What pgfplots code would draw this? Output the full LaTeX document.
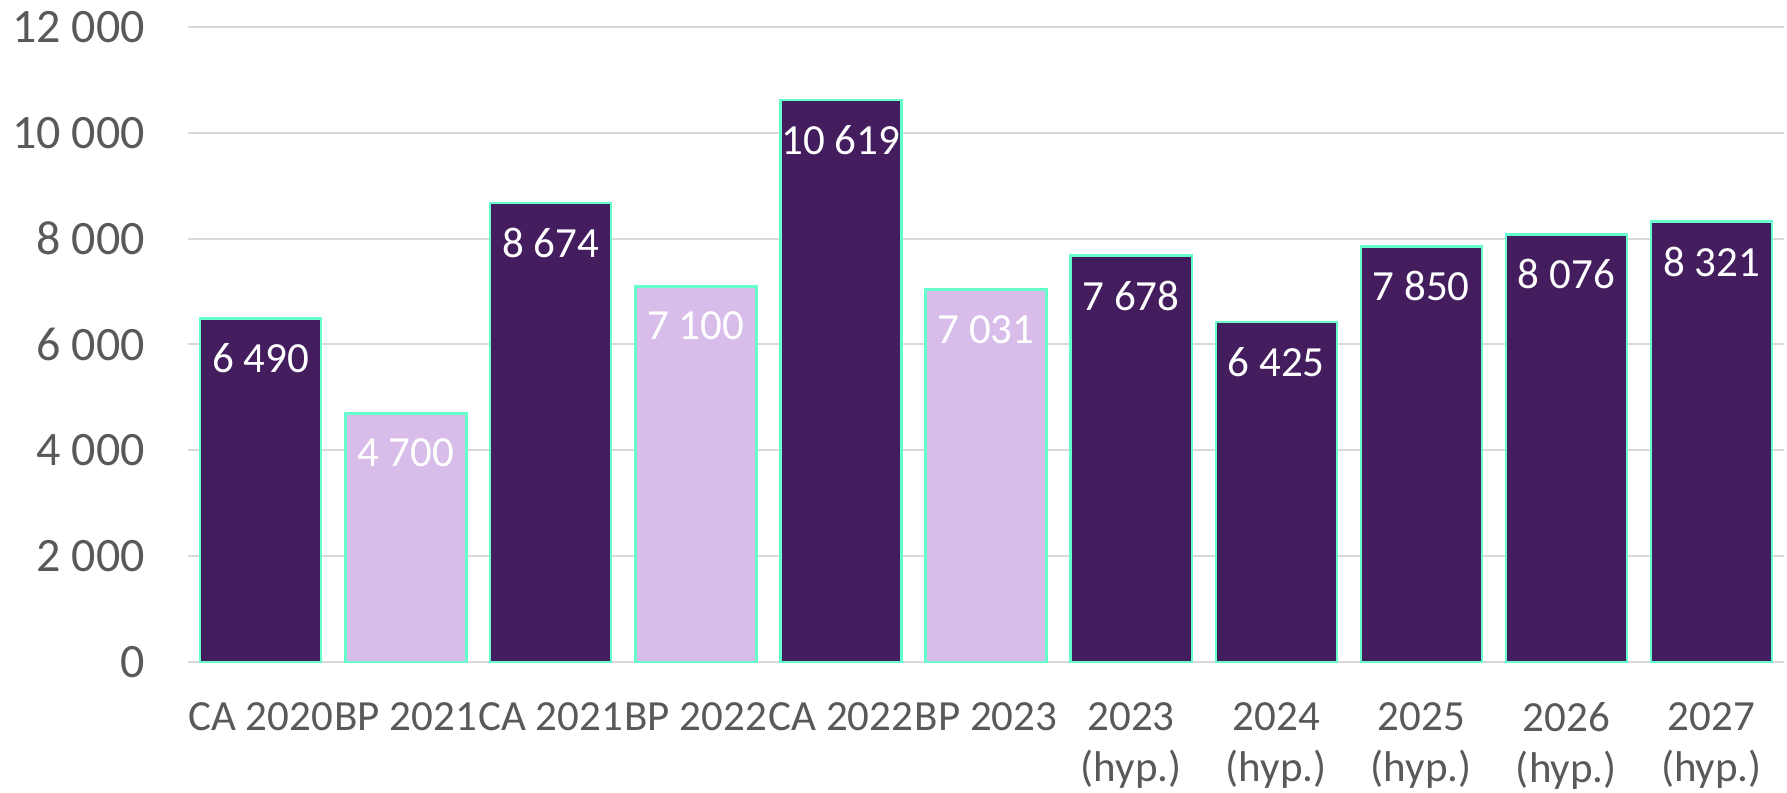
\documentclass[border=0pt]{standalone}
\usepackage{fontspec}
\setmainfont{Carlito}
\usepackage{pgfplots}
\pgfplotsset{compat=1.18}

\definecolor{darkpurple}{HTML}{441D5F}
\definecolor{lightpurple}{HTML}{D8BDEA}
\definecolor{mint}{HTML}{66FFCC}
\definecolor{txtgray}{HTML}{595959}
\definecolor{gridgray}{HTML}{D9D9D9}

\begin{document}
\begin{tikzpicture}
\useasboundingbox (-94pt,-65pt) rectangle (799.5pt,331pt);
\begin{axis}[
  at={(0,0)}, anchor=south west,
  scale only axis, width=798pt, height=317.6pt,
  xmin=-0.5, xmax=10.5, ymin=0, ymax=12000,
  ytick={0,2000,...,12000},
  scaled y ticks=false,
  xtick={0,...,10},
  xticklabels={CA 2020,BP 2021,CA 2021,BP 2022,CA 2022,BP 2023,
    {2023\\(hyp.)},{2024\\(hyp.)},{2025\\(hyp.)},{2026\\(hyp.)},{2027\\(hyp.)}},
  /pgf/number format/assume math mode=true,
  /pgf/number format/1000 sep={\ },
  axis line style={draw=none},
  major tick length=0pt,
  ymajorgrids, grid style={gridgray, line width=1pt},
  yticklabel style={font=\fontsize{24}{28}\selectfont, text=txtgray, xshift=-18pt},
  xticklabel style={font=\fontsize{21.5}{25.5}\selectfont, text=txtgray, align=center,
    anchor=north, inner sep=0pt, yshift=-20pt},
  bar width=60.5pt,
  nodes near coords,
  every node near coord/.append style={anchor=north, yshift=-12pt, inner sep=0pt,
    font=\fontsize{21.5}{25}\selectfont, text=white},
  clip=false,
]
\addplot[ybar, bar shift=0pt, fill=darkpurple, draw=mint, line width=1.1pt] coordinates {
(0,6490)(2,8674)(4,10619)(6,7678)(7,6425)(8,7850)(9,8076)(10,8321)};
\addplot[ybar, bar shift=0pt, fill=lightpurple, draw=mint, line width=1.4pt] coordinates {
(1,4700)(3,7100)(5,7031)};
\end{axis}
\end{tikzpicture}
\end{document}
